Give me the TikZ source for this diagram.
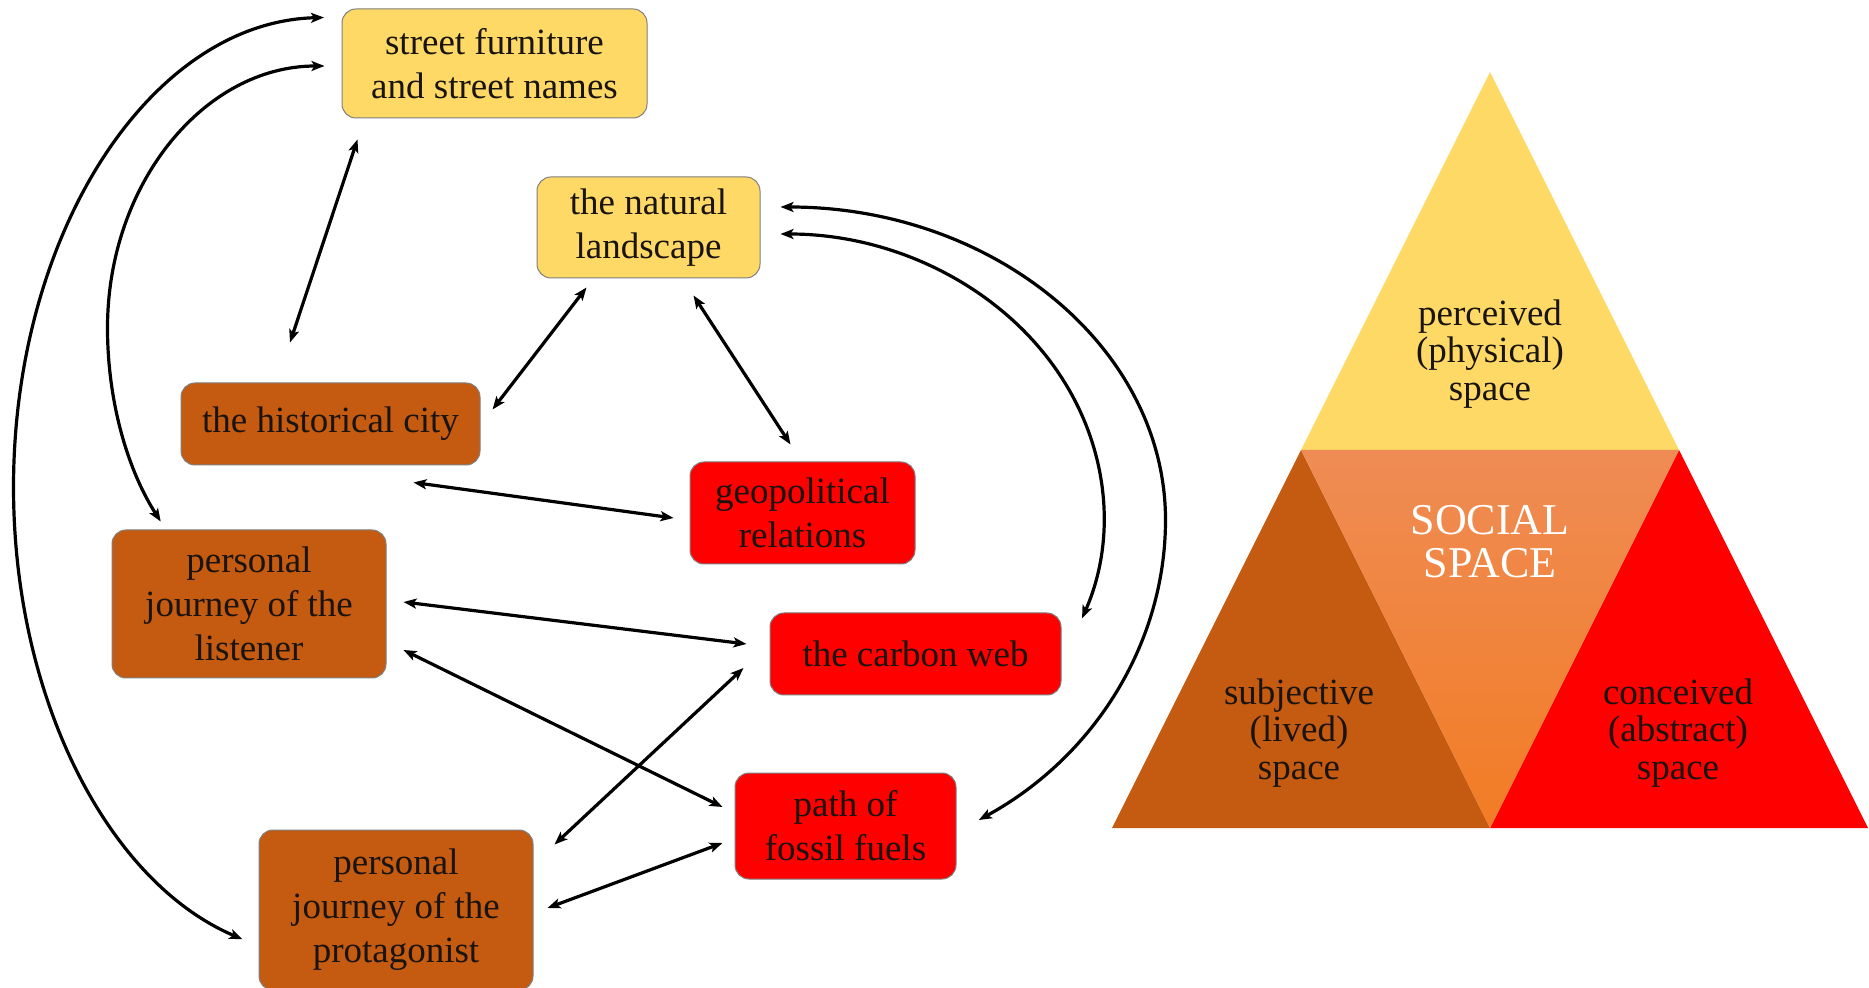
\documentclass[tikz,border=0pt]{standalone}
\usepackage{fontspec}
\setmainfont{Liberation Serif}
\usetikzlibrary{arrows.meta,calc}
\definecolor{cyel}{HTML}{FFD966}
\definecolor{cbrn}{HTML}{C55A11}
\definecolor{cred}{HTML}{FF0000}
\definecolor{ctop}{HTML}{EF8C55}
\definecolor{cbot}{HTML}{F27C24}
\definecolor{cbord}{HTML}{7F7F7F}
\definecolor{ctxt}{HTML}{1A1410}
\begin{document}
\begin{tikzpicture}[x=0.5pt,y=-0.5pt,
  box/.style={rectangle, rounded corners=7pt, draw=cbord, line width=0.5pt, align=center, inner sep=0pt, text=ctxt, font=\fontsize{18.5}{22}\selectfont},
  ybox/.style={box, fill=cyel},
  bbox/.style={box, fill=cbrn},
  rbox/.style={box, fill=cred},
  arr/.style={line width=1.6pt, {Stealth[length=6.5pt,width=5pt,inset=1.5pt]}-{Stealth[length=6.5pt,width=5pt,inset=1.5pt]}},
  tri/.style={align=center, inner sep=0pt, text=ctxt, font=\fontsize{18.5}{18.75}\selectfont}
]
\useasboundingbox[fill=white] (0,0) rectangle (1869,988);

% ---- pyramid ----
\fill[cyel] (1490,72) -- (1679,450) -- (1301,450) -- cycle;
\fill[cbrn] (1301,450) -- (1490,828) -- (1112,828) -- cycle;
\fill[cred] (1679,450) -- (1868,828) -- (1490,828) -- cycle;
\shade[top color=ctop, bottom color=cbot] (1301,450) -- (1679,450) -- (1490,828) -- cycle;
\node[tri] (pp) at (1490,354) {perceived\\(physical)\\space};
\node[tri, text=white, font=\fontsize{22}{21.5}\selectfont] (ss) at (1490,542) {SOCIAL\\SPACE};
\node[tri] (sl) at (1299,733) {subjective\\(lived)\\space};
\node[tri] (ca) at (1678,733) {conceived\\(abstract)\\space};

% ---- boxes ----
\node[ybox, minimum width=152.5pt, minimum height=54.5pt] (sf) at (494.5,63.5) {street furniture\\and street names};
\node[ybox, minimum width=111.5pt, minimum height=50.5pt] (nl) at (648.5,227.5) {the natural\\landscape};
\node[bbox, minimum width=149.5pt, minimum height=41pt] (hc) at (330.5,424) {the historical city};
\node[rbox, minimum width=112.5pt, minimum height=51pt] (gp) at (802.5,513) {geopolitical\\relations};
\node[bbox, minimum width=137pt, minimum height=74pt] (ls) at (249,604) {personal\\journey of the\\listener};
\node[rbox, minimum width=145.5pt, minimum height=41pt] (cw) at (915.5,654) {the carbon web};
\node[rbox, minimum width=110.5pt, minimum height=53pt] (ff) at (845.5,826) {path of\\fossil fuels};
\node[bbox, minimum width=137pt, minimum height=80pt] (pj) at (396,910) {personal\\journey of the\\protagonist};

% ---- straight connectors ----
\draw[arr] ($(sf.south west)+(16,21)$) -- ($(hc.north)+(-40.5,-40)$);
\draw[arr] ($(nl.south west)+(50,9)$) -- ($(hc.north east)+(12,27)$);
\draw[arr] ($(nl.south west)+(157,17)$) -- ($(gp.north west)+(101,-17)$);
\draw[arr] ($(hc.south east)+(-67,17)$) -- ($(gp.west)+(-16,5)$);
\draw[arr] ($(ls.east)+(17,-2)$) -- ($(cw.west)+(-23,-10)$);
\draw[arr] ($(ls.east)+(17,46)$) -- ($(ff.west)+(-12,-19)$);
\draw[arr] ($(pj.north east)+(21,15)$) -- ($(cw.west)+(-26,14)$);
\draw[arr] ($(pj.east)+(14,-2)$) -- ($(ff.west)+(-12,17)$);

% ---- curved connectors ----
\draw[arr] ($(sf.north west)+(-17.5,9)$) arc[start angle=269, end angle=106, x radius=316, y radius=470];
\draw[arr] ($(sf.west)+(-17,2.5)$) arc[start angle=270, end angle=180, x radius=217, y radius=262]
                                   arc[start angle=180, end angle=139, x radius=217, y radius=295];
\draw[arr] ($(nl.east)+(20,-20.5)$) arc[start angle=-90, end angle=0, x radius=385, y radius=313]
                                    arc[start angle=0, end angle=59, x radius=385, y radius=350];
\draw[arr] ($(nl.east)+(20,6.5)$) arc[start angle=-90, end angle=21, x radius=323, y radius=283];
\end{tikzpicture}
\end{document}
